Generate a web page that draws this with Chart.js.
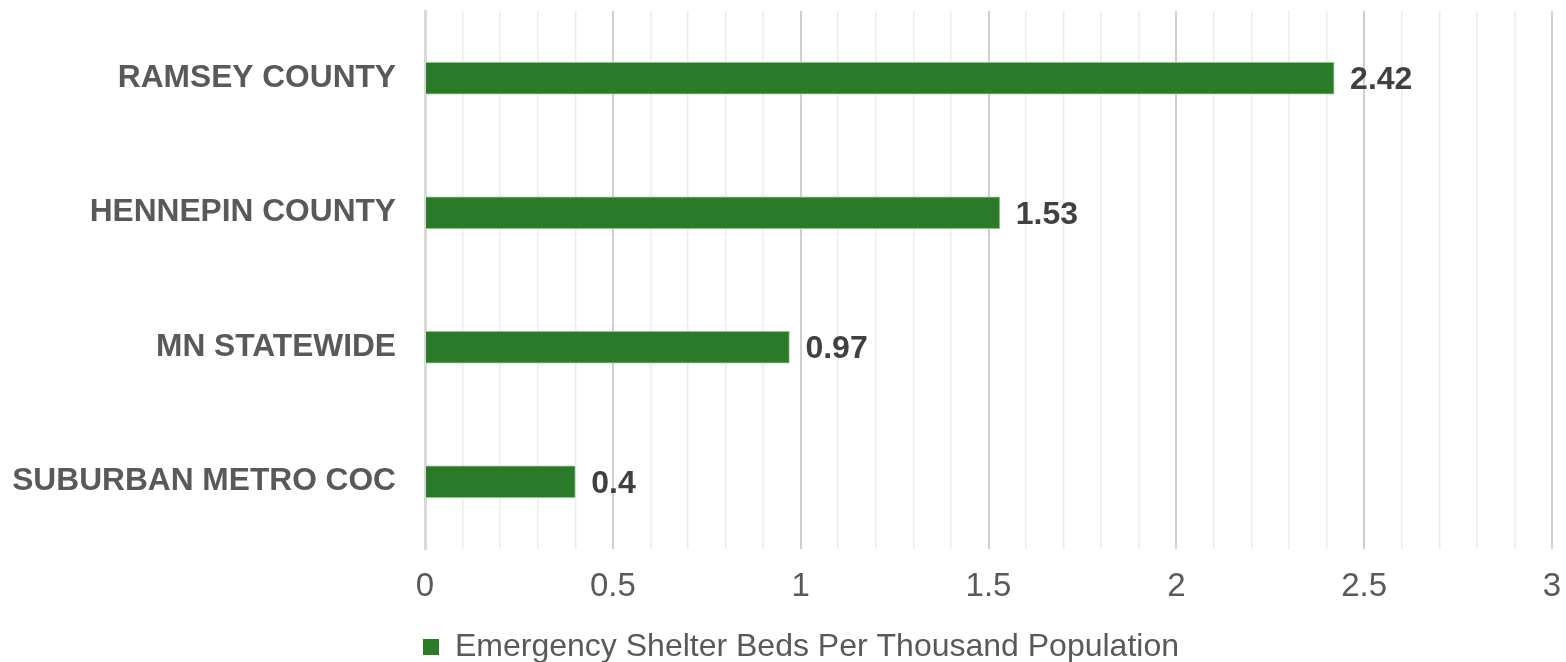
<!DOCTYPE html>
<html>
<head>
<meta charset="utf-8">
<script src="https://cdn.jsdelivr.net/npm/chart.js@4/dist/chart.umd.min.js"></script>
<style>
  html, body { margin: 0; padding: 0; background: #fff; }
  #wrap { width: 1566px; height: 662px; }
</style>
</head>
<body>
<div id="wrap"><canvas id="chart"></canvas></div>
<script>
  // chart data
  const categories = ["RAMSEY COUNTY", "HENNEPIN COUNTY", "MN STATEWIDE", "SUBURBAN METRO COC"];
  const bedsPerThousand = [2.42, 1.53, 0.97, 0.4];
  const seriesName = "Emergency Shelter Beds Per Thousand Population";
  const xMin = 0, xMax = 3, minorStep = 0.1, majorStep = 0.5;

  const FONT = "'Liberation Sans', Arial, sans-serif";

  // draws the value next to each bar
  const valueLabels = {
    id: "valueLabels",
    afterDatasetsDraw(chart) {
      const ctx = chart.ctx;
      const meta = chart.getDatasetMeta(0);
      ctx.save();
      ctx.font = "bold 32px " + FONT;
      ctx.fillStyle = "#404040";
      ctx.textAlign = "left";
      ctx.textBaseline = "middle";
      meta.data.forEach((bar, i) => {
        ctx.fillText(String(bedsPerThousand[i]), bar.x + 16, bar.y + 2);
      });
      ctx.restore();
    }
  };

  // nudge the legend a little right and down, like the original
  const legendNudge = {
    id: "legendNudge",
    afterLayout(chart) {
      const l = chart.legend;
      if (!l) return;
      l.left += 22; l.right += 22;
      l.top += 11; l.bottom += 11;
    }
  };

  function isMajor(v) {
    return Math.abs(v / majorStep - Math.round(v / majorStep)) < 1e-6;
  }

  new Chart(document.getElementById("chart"), {
    type: "bar",
    data: {
      labels: categories,
      datasets: [{
        label: seriesName,
        data: bedsPerThousand,
        backgroundColor: "#2a7a2a",
        borderColor: "#8fc48f",
        borderWidth: 1,
        barThickness: 32
      }]
    },
    options: {
      indexAxis: "y",
      responsive: true,
      maintainAspectRatio: false,
      animation: false,
      layout: { padding: { left: 6, right: 14, top: 11, bottom: 0 } },
      scales: {
        x: {
          min: xMin,
          max: xMax,
          afterFit: (s) => { s.height = 71; s.paddingLeft = 0; s.paddingRight = 0; },
          ticks: {
            stepSize: minorStep,
            autoSkip: false,
            maxRotation: 0,
            padding: 18,
            color: "#595959",
            font: { family: FONT, size: 33 },
            callback: (v) => isMajor(v) ? String(Math.round(v * 10) / 10) : ""
          },
          grid: {
            drawTicks: false,
            color: (c) => c.index === 0 ? "rgba(0,0,0,0)" : (isMajor(c.tick.value) ? "#d0d0d0" : "#ececec"),
            lineWidth: (c) => isMajor(c.tick.value) ? 2 : 1.5
          },
          border: { display: false }
        },
        y: {
          afterFit: (s) => { s.width = 419; s.paddingTop = 0; s.paddingBottom = 0; },
          ticks: {
            padding: 29,
            color: "#595959",
            font: { family: FONT, size: 31.7, weight: "bold" }
          },
          grid: { display: false, drawTicks: false },
          border: { display: true, color: "#d9d9d9", width: 3 }
        }
      },
      plugins: {
        legend: {
          position: "bottom",
          labels: {
            color: "#595959",
            font: { family: FONT, size: 32 },
            boxWidth: 16,
            boxHeight: 16,
            padding: 0,
            generateLabels: (chart) => [{
              text: seriesName,
              fillStyle: "#2a7a2a",
              strokeStyle: "#2a7a2a",
              fontColor: "#595959",
              lineWidth: 0,
              datasetIndex: 0
            }]
          }
        },
        tooltip: { enabled: false }
      }
    },
    plugins: [valueLabels, legendNudge]
  });
</script>
</body>
</html>
